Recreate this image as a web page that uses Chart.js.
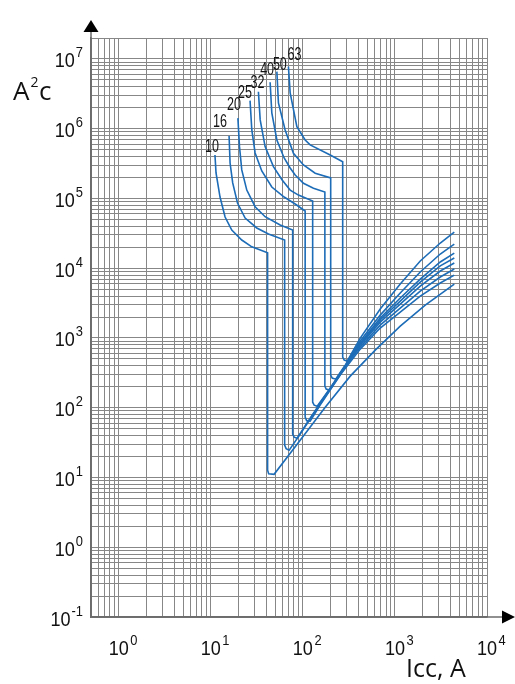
<!DOCTYPE html>
<html>
<head>
<meta charset="utf-8">
<title>I²t let-through</title>
<script src="https://cdn.jsdelivr.net/npm/chart.js@4.4.1/dist/chart.umd.min.js"></script>
<style>
  html, body { margin: 0; padding: 0; background: #fff; }
  #wrap { width: 515px; height: 684px; }
</style>
</head>
<body>
<div id="wrap"><canvas id="chart" width="515" height="684"></canvas></div>
<script>
// breaker ratings, A
const ratings = ["10", "16", "20", "25", "32", "40", "50", "63"];

// [Icc, A ; I²t, A²s]
const curve10 = [
  [11.1, 4.21e5], [11.4, 2.32e5], [12.6, 1.05e5], [14.3, 5.43e4], [16.9, 3.53e4],
  [21.7, 2.54e4], [27.9, 2.03e4], [41.4, 1.67e4], [41.4, 12.7], [42.5, 11.3],
  [48.7, 11.1], [93.5, 34.3], [175, 102], [327, 284], [611, 670],
  [1142, 1480], [2135, 2970], [4413, 5930]
];
const curve16 = [
  [15.8, 7.89e5], [16.2, 3.23e5], [17.3, 1.67e5], [19.5, 8.61e4], [23.6, 5.25e4],
  [31.6, 3.78e4], [42.3, 3.09e4], [63.4, 2.54e4], [63.4, 29.1], [65.8, 25.9],
  [71.0, 24.6], [93.5, 41.8], [154, 113], [254, 294], [420, 693],
  [692, 1390], [1142, 2350], [1884, 3990], [3108, 6140], [4413, 7980]
];
const curve20 = [
  [19.7, 1.42e6], [20.5, 5.54e5], [21.7, 2.57e5], [24.6, 1.32e5], [30.3, 7.63e4],
  [38.9, 5.48e4], [56.7, 4.17e4], [77.5, 3.53e4], [77.5, 41.8], [80.4, 37.9],
  [86.7, 36.6], [120, 71.0], [198, 191], [288, 395], [420, 740],
  [692, 1530], [1142, 2690], [1884, 4710], [3108, 7480], [4413, 9750]
];
const curve25 = [
  [26.7, 2.53e6], [27.9, 9.61e5], [30.3, 4.50e5], [35.8, 2.48e5], [46.0, 1.46e5],
  [62.6, 1.05e5], [82.5, 8.34e4], [105.9, 6.62e4], [105.9, 73.3], [110, 65.3],
  [120, 64.3], [154, 109], [254, 294], [420, 791],
  [692, 1690], [1142, 3060], [1884, 5550], [3108, 9120], [4413, 1.19e4]
];
const curve32 = [
  [32.9, 3.40e6], [34.4, 1.34e6], [38.9, 5.54e5], [47.9, 2.86e5], [59.6, 1.84e5],
  [72.8, 1.32e5], [89.6, 1.12e5], [127.8, 9.21e4], [127.8, 120], [132.7, 109],
  [143, 105], [198, 191], [288, 395], [420, 819],
  [692, 1810], [1142, 3380], [1884, 6340], [3108, 1.08e4], [4413, 1.40e4]
];
const curve40 = [
  [44.1, 4.64e6], [46.0, 1.69e6], [52.2, 6.91e5], [62.6, 3.81e5], [72.8, 2.74e5],
  [82.5, 2.17e5], [101.5, 1.65e5], [130.4, 1.40e5], [173.4, 1.24e5], [173.4, 204],
  [179.2, 185], [193.2, 179], [288, 395], [420, 846],
  [692, 1930], [1142, 3740], [1884, 7000], [3108, 1.23e4], [4413, 1.65e4]
];
const curve50 = [
  [52.2, 6.59e6], [54.3, 2.34e6], [64.2, 9.61e5], [79.0, 4.45e5], [101.5, 3.03e5],
  [136.1, 2.30e5], [200.6, 1.97e5], [200.6, 294], [208.2, 266], [227.3, 257],
  [288, 409], [420, 904], [692, 2130], [1142, 4410], [1884, 8830],
  [3108, 1.60e4], [4413, 2.22e4]
];
const curve63 = [
  [69.7, 7.78e6], [72.8, 3.27e6], [86.1, 1.07e6], [105.9, 6.91e5], [120, 5.86e5],
  [198.1, 4.21e5], [270.8, 3.37e5], [270.8, 532], [281.2, 482], [303, 467],
  [420, 997], [692, 2600], [1142, 5930], [1884, 1.27e4], [3108, 2.30e4], [4413, 3.30e4]
];
const curves = [curve10, curve16, curve20, curve25, curve32, curve40, curve50, curve63];

// labelled decades (powers of ten)
const xTickExps = [0, 1, 2, 3, 4];
const yTickExps = [-1, 0, 1, 2, 3, 4, 5, 6, 7];

const xMin = 0.5, xMax = 1e4;
const yMin = 0.1, yMax = 2e7;

// log paper grid: 1..9 in every decade
function logGrid(min, max) {
  const out = [];
  for (let e = Math.floor(Math.log10(min)); e <= Math.ceil(Math.log10(max)); e++) {
    for (let m = 1; m <= 9; m++) {
      const v = m * Math.pow(10, e);
      if (v >= min * 0.999 && v <= max * 1.001) out.push(v);
    }
  }
  return out;
}

const CURVE_COLOR = "#1c6cb7";
const GRID_COLOR = "#878787";
const AXIS_COLOR = "#6c6c6c";

// where each rating number sits, relative to the start of its curve (px)
const labelOffsets = [[-3, -10], [-9, -16], [-4, -15], [-5, -9], [-1, -10], [-3, -14], [3, -8], [6, -13]];

function narrowText(ctx, text, px, py, size, sx, align) {
  ctx.save();
  ctx.font = size + 'px "Liberation Sans", Arial, sans-serif';
  const w = ctx.measureText(text).width * sx;
  let left = px;
  if (align === "center") left = px - w / 2;
  if (align === "right") left = px - w;
  ctx.translate(left, py);
  ctx.scale(sx, 1);
  ctx.textAlign = "left";
  ctx.textBaseline = "alphabetic";
  ctx.fillText(text, 0, 0);
  ctx.restore();
  return w;
}

function textWidth(ctx, text, size, sx) {
  ctx.save();
  ctx.font = size + 'px "Liberation Sans", Arial, sans-serif';
  const w = ctx.measureText(text).width * sx;
  ctx.restore();
  return w;
}

const decorations = {
  id: "decorations",
  afterDraw(chart) {
    const { ctx, chartArea: a, scales: { x, y } } = chart;
    ctx.save();

    // axes run on past the paper, ending in arrows
    ctx.strokeStyle = AXIS_COLOR;
    ctx.lineWidth = 1.5;
    ctx.beginPath();
    ctx.moveTo(a.left, a.bottom); ctx.lineTo(a.left, 31);
    ctx.moveTo(a.left, a.bottom); ctx.lineTo(503, a.bottom);
    ctx.stroke();
    ctx.fillStyle = "#000";
    ctx.beginPath();
    ctx.moveTo(a.left, 20); ctx.lineTo(a.left - 7.5, 32); ctx.lineTo(a.left + 7.5, 32);
    ctx.closePath(); ctx.fill();
    ctx.beginPath();
    ctx.moveTo(515, a.bottom); ctx.lineTo(502, a.bottom - 6.5); ctx.lineTo(502, a.bottom + 6.5);
    ctx.closePath(); ctx.fill();

    // tick labels 10^n
    ctx.fillStyle = "#111";
    xTickExps.forEach(e => {
      const px = x.getPixelForValue(Math.pow(10, e));
      const w = textWidth(ctx, "10", 21, 0.86);
      narrowText(ctx, "10", px - w / 2, 655, 21, 0.86, "left");
      narrowText(ctx, String(e), px + w / 2 + 1.5, 645, 15, 0.86, "left");
    });
    yTickExps.forEach(e => {
      const py = y.getPixelForValue(Math.pow(10, e));
      const ew = narrowText(ctx, String(e), a.left - 8, py - 1.5, 15, 0.86, "right");
      narrowText(ctx, "10", a.left - 8 - ew - 1, py + 8.5, 21, 0.86, "right");
    });

    // axis titles
    ctx.fillStyle = "#111";
    ctx.textAlign = "left";
    ctx.textBaseline = "alphabetic";
    ctx.font = '26px "Open Sans", "Noto Sans", sans-serif';
    ctx.fillText("A", 13, 100);
    const aw = ctx.measureText("A").width;
    ctx.font = '14px "Open Sans", "Noto Sans", sans-serif';
    ctx.fillText("2", 13 + aw + 1, 87);
    const tw = ctx.measureText("2").width;
    ctx.font = '26px "Open Sans", "Noto Sans", sans-serif';
    ctx.fillText("c", 13 + aw + tw + 1.5, 100);
    ctx.font = '25px "Open Sans", "Noto Sans", sans-serif';
    ctx.fillText("Icc, A", 406, 677);

    // rating numbers at the top of each curve
    ctx.fillStyle = "#111";
    ratings.forEach((r, i) => {
      const p = curves[i][0];
      const px = x.getPixelForValue(p[0]) + labelOffsets[i][0];
      const py = y.getPixelForValue(p[1]) + labelOffsets[i][1];
      narrowText(ctx, r, px, py + 6.8, 19, 0.66, "center");
    });

    ctx.restore();
  }
};

const gridScale = (min, max) => ({
  type: "logarithmic",
  min: min,
  max: max,
  ticks: { display: false },
  grid: { color: GRID_COLOR, lineWidth: 1, drawTicks: false },
  border: { display: true, color: AXIS_COLOR, width: 1.5 },
  afterBuildTicks: s => { s.ticks = logGrid(min, max).map(v => ({ value: v })); }
});

new Chart(document.getElementById("chart"), {
  type: "line",
  data: {
    datasets: ratings.map((r, i) => ({
      label: r + " A",
      data: curves[i].map(p => ({ x: p[0], y: p[1] })),
      borderColor: CURVE_COLOR,
      borderWidth: 1.6,
      pointRadius: 0,
      fill: false,
      tension: 0
    }))
  },
  options: {
    responsive: false,
    animation: false,
    layout: { padding: { left: 91, right: 28, top: 38, bottom: 67 } },
    scales: {
      x: gridScale(xMin, xMax),
      y: gridScale(yMin, yMax)
    },
    plugins: {
      legend: { display: false },
      tooltip: { enabled: false },
      title: { display: false }
    }
  },
  plugins: [decorations]
});
</script>
</body>
</html>
